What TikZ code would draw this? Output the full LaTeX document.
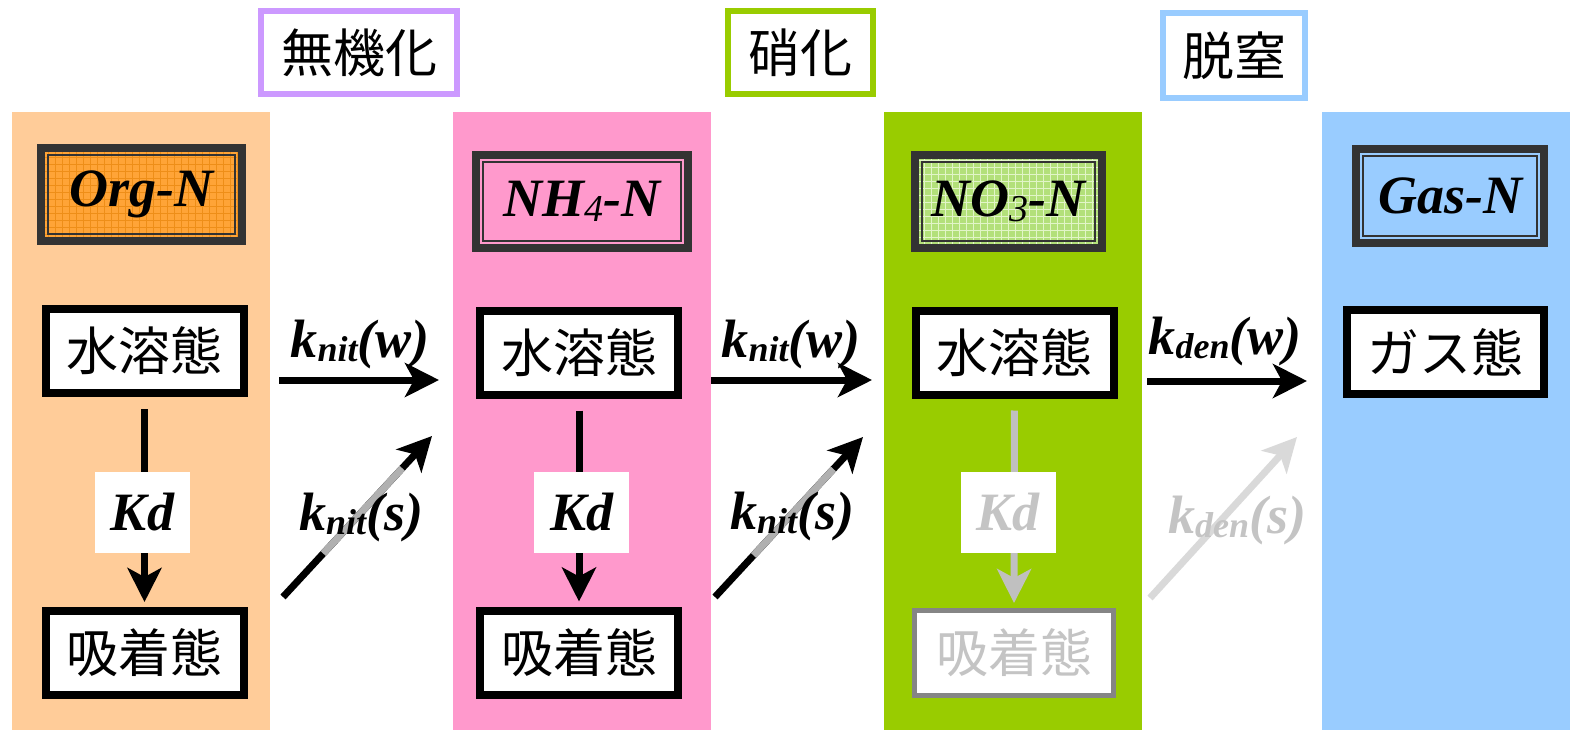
\documentclass[tikz,border=0pt]{standalone}
\usepackage{fontspec}
\setmainfont{Liberation Serif}
\newfontfamily\jp{Noto Sans CJK JP}
\usetikzlibrary{arrows.meta,calc}
\definecolor{colOrg}{HTML}{FFCC99}
\definecolor{colNH}{HTML}{FF99CC}
\definecolor{colNO}{HTML}{99CC00}
\definecolor{colGas}{HTML}{99CCFF}
\definecolor{colPur}{HTML}{CC99FF}
\definecolor{dk}{HTML}{333333}
\definecolor{orgfill}{HTML}{FFA437}
\definecolor{orggrid}{HTML}{EE8E18}
\definecolor{nofill}{HTML}{B3E07A}
\definecolor{nogrid}{HTML}{E2F5C8}
\definecolor{ghost}{HTML}{C4C4C4}
\definecolor{ghostarrow}{HTML}{D9D9D9}
\definecolor{vghost}{HTML}{C0C0C0}
\definecolor{hatch}{HTML}{B0B0B0}
\definecolor{boxgray}{HTML}{858585}
\newcommand\jpbig{\jp\fontsize{52}{60}\selectfont}
\newcommand\lat{\bfseries\itshape\fontsize{54}{60}\selectfont}
\newcommand\mysub[1]{\raisebox{-4pt}{\fontsize{36}{40}\selectfont #1}}
\newcommand\numsub[1]{\raisebox{-5pt}{\mdseries\fontsize{38}{40}\selectfont #1}}
\begin{document}
\begin{tikzpicture}[x=1pt,y=-1pt,
  hdr/.style={draw=#1, line width=6pt, fill=white, minimum height=83pt, inner sep=0pt, font=\jpbig},
  titlebox/.style={draw=dk, line width=8pt, minimum height=93pt, inner sep=0pt, font=\lat,
    path picture={\draw[dk,line width=2pt] ([shift={(7pt,-7pt)}]path picture bounding box.north west) rectangle ([shift={(-7pt,7pt)}]path picture bounding box.south east);}},
  titlegrid/.style={titlebox,
    path picture={\draw[#1, line width=0.6pt] (path picture bounding box.south west) grid[step=7pt] (path picture bounding box.north east);
      \draw[dk,line width=2pt] ([shift={(7pt,-7pt)}]path picture bounding box.north west) rectangle ([shift={(-7pt,7pt)}]path picture bounding box.south east);}},
  state/.style={draw=black, line width=8pt, fill=white, minimum height=84pt, minimum width=198pt, inner sep=0pt, font=\jpbig},
  kdbox/.style={fill=white, minimum width=95pt, minimum height=81pt, inner sep=0pt, font=\lat},
  rate/.style={anchor=base, font=\lat, inner sep=0pt},
  flow/.style={line width=7pt, -{Stealth[length=34pt,width=34pt,inset=9pt]}},
  hatchseg/.style={line width=7pt, draw=hatch}
]
\useasboundingbox (0,0) rectangle (1570,730);
% columns
\fill[colOrg] (12,112) rectangle (270,730);
\fill[colNH] (453,112) rectangle (711,730);
\fill[colNO] (884,112) rectangle (1142,730);
\fill[colGas] (1322,112) rectangle (1570,730);
% headers
\node[hdr=colPur, minimum width=196pt] (h1) at (359,52.5) {無機化};
\node[hdr=colNO, minimum width=145pt] (h2) at (800.5,52.5) {硝化};
\node[hdr=colGas, minimum width=142pt, minimum height=85pt] (h3) at (1234,55.5) {脱窒};
% title boxes
\node[titlegrid=orggrid, fill=orgfill, minimum width=201pt] (t1) at (141.5,194.5) {Org-N};
\node[titlebox, fill=colNH, minimum width=212pt] (t2) at (582,201.5) {NH\numsub{4}-N};
\node[titlegrid=nogrid, fill=nofill, minimum width=187pt] (t3) at (1008.5,201.5) {NO\numsub{3}-N};
\node[titlebox, fill=colGas, minimum width=188pt, minimum height=94pt] (t4) at (1450,196) {Gas-N};
% state boxes
\node[state] (w1) at (144.5,351) {水溶態};
\node[state] (w2) at (579,352.5) {水溶態};
\node[state] (w3) at (1014.5,352.5) {水溶態};
\node[state, minimum width=197pt] (w4) at (1445.5,352) {ガス態};
\node[state] (a1) at (144.5,653) {吸着態};
\node[state] (a2) at (579,652.5) {吸着態};
\node[state, draw=boxgray, line width=5pt, minimum width=199pt, minimum height=85pt, text=ghost] (a3) at (1014,653) {吸着態};
% vertical Kd arrows
\draw[flow, shorten <=12pt, shorten >=5pt] (w1.south) -- (a1.north);
\draw[flow, shorten <=12pt, shorten >=5pt] (w2.south) -- (a2.north);
\draw[flow, color=vghost, shorten <=12pt, shorten >=5pt] (w3.south) -- (a3.north);
\node[kdbox] (kd1) at (142.5,512.5) {Kd};
\node[kdbox] (kd2) at (581.5,512.5) {Kd};
\node[kdbox, text=ghost] (kd3) at (1008,512.5) {Kd};
% horizontal arrows
\coordinate (r1s) at (279,380); \coordinate (r1e) at (439,380);
\coordinate (r2s) at (711,380); \coordinate (r2e) at (872,380);
\coordinate (r3s) at (1147,381); \coordinate (r3e) at (1307,381);
\draw[flow] (r1s) -- (r1e);
\draw[flow] (r2s) -- (r2e);
\draw[flow] (r3s) -- (r3e);
% diagonal arrows
\coordinate (d1s) at (283,597); \coordinate (d1e) at (432,436);
\coordinate (d2s) at (715,597); \coordinate (d2e) at (863,437);
\coordinate (d3s) at (1150,598); \coordinate (d3e) at (1297,437);
\draw[flow] (d1s) -- (d1e);
\draw[hatchseg] ($(d1s)!0.27!(d1e)$) -- ($(d1s)!0.80!(d1e)$);
\draw[flow] (d2s) -- (d2e);
\draw[hatchseg] ($(d2s)!0.26!(d2e)$) -- ($(d2s)!0.80!(d2e)$);
\draw[flow, color=ghostarrow] (d3s) -- (d3e);
% rate labels
\node[rate] (l1) at (360,357) {k\mysub{nit}(w)};
\node[rate] (l2) at (791,357) {k\mysub{nit}(w)};
\node[rate] (l3) at (1225,354) {k\mysub{den}(w)};
\node[rate] (l4) at (361,530) {k\mysub{nit}(s)};
\node[rate] (l5) at (792,529) {k\mysub{nit}(s)};
\node[rate, text=ghost] (l6) at (1237,533) {k\mysub{den}(s)};
\end{tikzpicture}
\end{document}
